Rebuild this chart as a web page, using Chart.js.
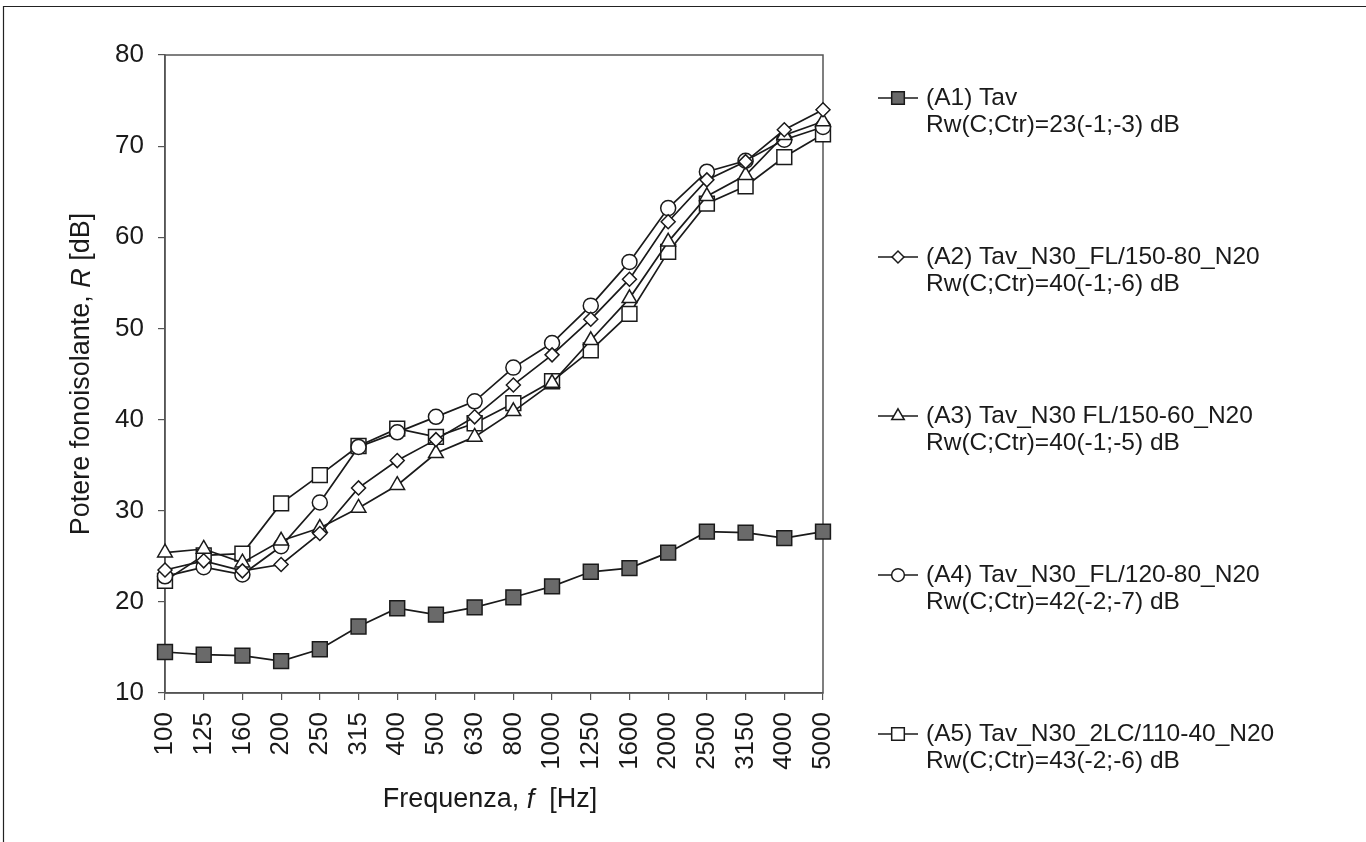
<!DOCTYPE html>
<html>
<head>
<meta charset="utf-8">
<script src="https://cdn.jsdelivr.net/npm/chart.js@4/dist/chart.umd.min.js"></script>
<style>
  html, body { margin: 0; padding: 0; background: #fff; }
  #wrap { width: 1366px; height: 842px; position: relative; }
</style>
</head>
<body>
<div id="wrap"><canvas id="myChart" width="1366" height="842"></canvas></div>
<script>
const FREQUENCIES = [
  "100", "125", "160", "200", "250", "315", "400", "500", "630",
  "800", "1000", "1250", "1600", "2000", "2500", "3150", "4000", "5000",
];

const A1_VALUES = [14.5, 14.2, 14.1, 13.5, 14.8, 17.3, 19.3, 18.6, 19.4, 20.5, 21.7, 23.3, 23.7, 25.4, 27.7, 27.6, 27.0, 27.7];
const A2_VALUES = [23.5, 24.5, 23.4, 24.1, 27.5, 32.5, 35.5, 37.8, 40.3, 43.8, 47.1, 51.0, 55.4, 61.7, 66.3, 68.3, 71.8, 74.0];
const A3_VALUES = [25.4, 25.8, 24.3, 26.7, 28.1, 30.3, 32.8, 36.3, 38.1, 40.9, 44.0, 48.7, 53.3, 59.5, 64.5, 66.8, 71.2, 72.7];
const A4_VALUES = [22.8, 23.8, 23.0, 26.1, 30.9, 37.0, 38.6, 40.3, 42.0, 45.7, 48.4, 52.5, 57.3, 63.2, 67.2, 68.4, 70.7, 72.1];
const A5_VALUES = [22.3, 25.1, 25.3, 30.8, 33.9, 37.1, 39.0, 38.1, 39.6, 41.8, 44.2, 47.6, 51.6, 58.4, 63.7, 65.6, 68.8, 71.3];

const SERIES_LABELS = [
  "(A1) Tav",
  "(A2) Tav_N30_FL/150-80_N20",
  "(A3) Tav_N30 FL/150-60_N20",
  "(A4) Tav_N30_FL/120-80_N20",
  "(A5) Tav_N30_2LC/110-40_N20",
];
const SERIES_RATINGS = [
  "Rw(C;Ctr)=23(-1;-3) dB",
  "Rw(C;Ctr)=40(-1;-6) dB",
  "Rw(C;Ctr)=40(-1;-5) dB",
  "Rw(C;Ctr)=42(-2;-7) dB",
  "Rw(C;Ctr)=43(-2;-6) dB",
];
const Y_TICKS = [10, 20, 30, 40, 50, 60, 70, 80];

const FONT = "'Liberation Sans', Arial, sans-serif";
const INK = "#1a1a1a";
const AXIS = "#555555";

function makeSeries(label, data, style, radius, fill) {
  return {
    label: label,
    data: data,
    borderColor: INK,
    borderWidth: 1.7,
    pointStyle: style,
    pointRadius: radius,
    pointHoverRadius: radius,
    pointBackgroundColor: fill,
    pointBorderColor: INK,
    pointBorderWidth: 1.5,
    tension: 0,
  };
}

const extras = {
  id: "extras",
  beforeDraw(chart) {
    const c = chart.ctx;
    c.save();
    c.fillStyle = "#fff";
    c.fillRect(0, 0, chart.width, chart.height);
    // outer frame (top and left)
    c.strokeStyle = "#222";
    c.lineWidth = 1.2;
    c.beginPath();
    c.moveTo(3.5, chart.height);
    c.lineTo(3.5, 6.5);
    c.lineTo(chart.width, 6.5);
    c.stroke();
    c.restore();
  },
  beforeDatasetsDraw(chart) {
    const a = chart.chartArea;
    const c = chart.ctx;
    c.save();
    c.strokeStyle = AXIS;
    c.lineWidth = 1.5;
    c.strokeRect(a.left, a.top, a.right - a.left, a.bottom - a.top);
    c.restore();
  },
  afterDraw(chart) {
    const a = chart.chartArea;
    const c = chart.ctx;
    c.save();
    c.fillStyle = INK;
    c.textBaseline = "middle";

    // y axis title with italic R
    const yParts = [
      ["Potere fonoisolante, ", "normal"],
      ["R", "italic"],
      [" [dB]", "normal"],
    ];
    drawParts(c, yParts, 82, (a.top + a.bottom) / 2, true);

    // x axis title with italic f
    const xParts = [
      ["Frequenza, ", "normal"],
      ["f", "italic"],
      ["  [Hz]", "normal"],
    ];
    drawParts(c, xParts, (a.left + a.right) / 2 - 4, 800, false);

    // legend
    const datasets = chart.data.datasets;
    datasets.forEach((ds, i) => {
      const y = 98 + i * 159;
      c.strokeStyle = INK;
      c.lineWidth = 1.7;
      c.beginPath();
      c.moveTo(878, y);
      c.lineTo(918, y);
      c.stroke();
      c.fillStyle = ds.pointBackgroundColor;
      c.strokeStyle = INK;
      c.lineWidth = 1.5;
      Chart.helpers.drawPoint(c, {
        pointStyle: ds.pointStyle,
        radius: ds.pointRadius * 0.85,
        rotation: 0,
        borderWidth: 1.5,
      }, 898, y);
      c.fillStyle = INK;
      c.font = "24.5px " + FONT;
      c.textAlign = "left";
      c.fillText(ds.label, 926, y);
      c.fillText(SERIES_RATINGS[i], 926, y + 27);
    });
    c.restore();
  },
};

function drawParts(c, parts, x, y, vertical) {
  let total = 0;
  parts.forEach((p) => {
    c.font = p[1] + " 27px " + FONT;
    total += c.measureText(p[0]).width;
  });
  c.save();
  c.translate(x, y);
  if (vertical) c.rotate(-Math.PI / 2);
  let pos = -total / 2;
  c.textAlign = "left";
  parts.forEach((p) => {
    c.font = p[1] + " 27px " + FONT;
    c.fillText(p[0], pos, 0);
    pos += c.measureText(p[0]).width;
  });
  c.restore();
}

const ctx = document.getElementById("myChart").getContext("2d");

new Chart(ctx, {
  type: "line",
  data: {
    labels: FREQUENCIES,
    datasets: [
      makeSeries(SERIES_LABELS[0], A1_VALUES, "rect", 10.5, "#6a6a6a"),
      makeSeries(SERIES_LABELS[1], A2_VALUES, "rectRot", 7, "#fff"),
      makeSeries(SERIES_LABELS[2], A3_VALUES, "triangle", 8.5, "#fff"),
      makeSeries(SERIES_LABELS[3], A4_VALUES, "circle", 7.5, "#fff"),
      makeSeries(SERIES_LABELS[4], A5_VALUES, "rect", 10.5, "#fff"),
    ],
  },
  options: {
    responsive: false,
    animation: false,
    events: [],
    layout: {
      padding: { left: 0, top: 55, right: 543, bottom: 0 },
    },
    scales: {
      x: {
        offset: false,
        afterFit: function (scale) {
          scale.height = 149;
        },
        grid: {
          drawOnChartArea: false,
          tickLength: 7,
          color: AXIS,
          lineWidth: 1.2,
        },
        border: { display: true, color: AXIS, width: 1.5 },
        ticks: {
          autoSkip: false,
          minRotation: 90,
          maxRotation: 90,
          padding: 12,
          color: INK,
          font: { family: FONT, size: 26 },
        },
      },
      y: {
        min: 10,
        max: 80,
        afterFit: function (scale) {
          scale.width = 165;
        },
        afterBuildTicks: function (scale) {
          scale.ticks = Y_TICKS.map((v) => ({ value: v }));
        },
        grid: {
          drawOnChartArea: false,
          tickLength: 7,
          color: AXIS,
          lineWidth: 1.2,
        },
        border: { display: true, color: AXIS, width: 1.5 },
        ticks: {
          padding: 14,
          color: INK,
          font: { family: FONT, size: 26 },
        },
      },
    },
    plugins: {
      legend: { display: false },
      tooltip: { enabled: false },
    },
  },
  plugins: [extras],
});
</script>
</body>
</html>
